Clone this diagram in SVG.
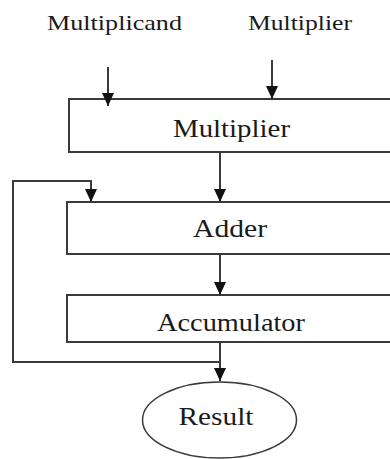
<svg xmlns="http://www.w3.org/2000/svg" width="390" height="459" viewBox="0 0 390 459">
<defs>
<style>
.box{fill:#fff;stroke:#3a3a3a;stroke-width:2}
.ln{fill:none;stroke:#3a3a3a;stroke-width:2}
text{fill:#1a1a1a;text-anchor:middle;font-family:"Liberation Serif","DejaVu Serif","Times New Roman",serif}
</style>
<marker id="a" markerUnits="userSpaceOnUse" markerWidth="13" markerHeight="12" viewBox="0 0 13 12" refX="13" refY="6" orient="auto">
<path d="M0,0 L13,6 L0,12 Z" fill="#111"/>
</marker>
</defs>
<rect width="390" height="459" fill="#fff"/>
<g id="label-multiplicand"><text x="114.5" y="30" font-size="22" textLength="135" lengthAdjust="spacingAndGlyphs">Multiplicand</text></g>
<g id="label-multiplier"><text x="300" y="30" font-size="22" textLength="104" lengthAdjust="spacingAndGlyphs">Multiplier</text></g>
<g id="multiplier">
<rect class="box" x="69" y="99" width="340" height="53"/>
<text x="231.5" y="137" font-size="25" textLength="117" lengthAdjust="spacingAndGlyphs">Multiplier</text>
</g>
<g id="adder">
<rect class="box" x="67" y="202" width="340" height="52"/>
<text x="230" y="237" font-size="25" textLength="74" lengthAdjust="spacingAndGlyphs">Adder</text>
</g>
<g id="accumulator">
<rect class="box" x="67" y="295" width="340" height="47"/>
<text x="231" y="331" font-size="25" textLength="148" lengthAdjust="spacingAndGlyphs">Accumulator</text>
</g>
<g id="result">
<ellipse cx="219.5" cy="420" rx="77" ry="38" fill="#fff" stroke="#3a3a3a" stroke-width="1.5"/>
<text x="216" y="425" font-size="25" textLength="75" lengthAdjust="spacingAndGlyphs">Result</text>
</g>
<g id="connectors">
<line class="ln" x1="108" y1="67" x2="108" y2="106" marker-end="url(#a)"/>
<line class="ln" x1="272" y1="60" x2="272" y2="99" marker-end="url(#a)"/>
<line class="ln" x1="220" y1="152" x2="220" y2="202" marker-end="url(#a)"/>
<line class="ln" x1="220" y1="254" x2="220" y2="295" marker-end="url(#a)"/>
<line class="ln" x1="220" y1="342" x2="220" y2="381" marker-end="url(#a)"/>
<path class="ln" d="M220,362 H13 V181 H91 V202" marker-end="url(#a)"/>
</g>
</svg>
